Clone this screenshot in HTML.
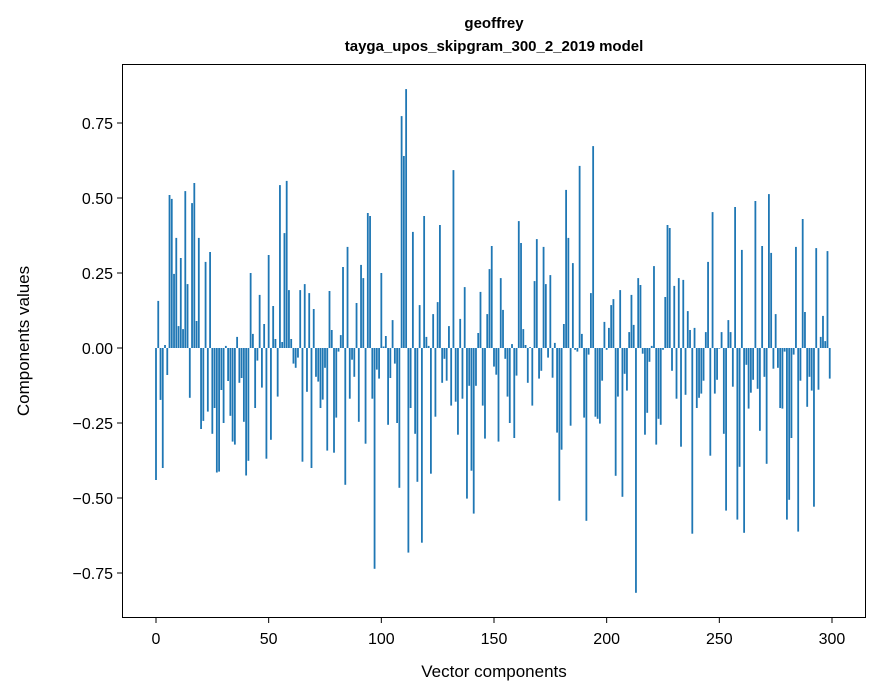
<!DOCTYPE html>
<html><head><meta charset="utf-8"><style>
body{margin:0;background:#fff;}
svg{display:block;font-family:"Liberation Sans","DejaVu Sans",sans-serif;}
</style></head><body>
<svg id="s" width="880" height="696" viewBox="0 0 880 696" xmlns="http://www.w3.org/2000/svg">
<rect width="880" height="696" fill="#fff"/>
<text x="494" y="28" text-anchor="middle" font-size="15" font-weight="bold">geoffrey</text>
<text x="494" y="51" text-anchor="middle" font-size="15" font-weight="bold">tayga_upos_skipgram_300_2_2019 model</text>
<g id="bars" fill="#1f77b4"></g>
<rect x="122.5" y="64.5" width="743" height="553" fill="none" stroke="#000" stroke-width="1"/>
<g id="ticks" stroke="#000" stroke-width="1"></g>
<g id="labels" font-size="16" fill="#000"></g>
<text x="494" y="677" text-anchor="middle" font-size="17">Vector components</text>
<text transform="translate(29,341) rotate(-90)" text-anchor="middle" font-size="17">Components values</text>
</svg>
<script>
var v=[-0.44,0.157,-0.173,-0.40,0.01,-0.09,0.51,0.497,0.247,0.367,0.073,0.30,0.063,0.523,0.213,-0.166,0.483,0.55,0.09,0.367,
-0.27,-0.243,0.287,-0.212,0.32,-0.286,-0.2,-0.415,-0.412,-0.14,-0.25,0.007,-0.11,-0.226,-0.312,-0.322,0.037,-0.116,-0.1,-0.246,
-0.425,-0.376,0.25,0.047,-0.2,-0.042,0.177,-0.132,0.08,-0.369,0.31,-0.306,0.14,0.03,-0.162,0.543,0.02,0.383,0.557,0.193,
0.03,-0.052,-0.066,-0.032,0.193,-0.379,0.213,-0.146,0.183,-0.4,0.13,-0.096,-0.112,-0.2,-0.172,-0.066,-0.342,0.19,0.06,-0.349,
-0.232,-0.012,0.043,0.27,-0.456,0.337,-0.169,-0.039,-0.096,0.15,-0.246,0.277,0.233,-0.319,0.45,0.44,-0.169,-0.736,-0.072,-0.102,
0.25,0.005,0.04,-0.256,-0.1,0.093,-0.052,-0.25,-0.466,0.773,0.64,0.863,-0.682,-0.2,0.387,-0.286,-0.446,0.143,-0.649,0.44,
0.037,0.007,-0.419,0.113,-0.229,0.153,0.41,-0.116,-0.036,-0.109,0.073,-0.192,0.593,-0.179,-0.289,0.097,-0.169,0.203,-0.502,-0.126,
-0.409,-0.552,-0.126,0.05,0.187,-0.192,-0.302,0.113,0.263,0.34,-0.062,-0.089,-0.312,0.233,0.127,-0.036,-0.162,-0.25,0.013,-0.3,
-0.092,0.423,0.35,0.063,0.01,-0.116,0.003,-0.192,0.223,0.363,-0.102,-0.076,0.337,0.213,-0.032,0.243,-0.099,0.017,-0.282,-0.509,
-0.339,0.08,0.527,0.367,-0.259,0.283,-0.006,-0.012,0.607,0.047,-0.232,-0.576,-0.022,0.183,0.673,-0.229,-0.236,-0.252,-0.109,0.087,
-0.006,0.067,0.143,0.163,-0.426,-0.162,0.193,-0.496,-0.086,-0.142,0.053,0.177,0.077,-0.816,0.233,0.21,-0.019,-0.289,-0.216,-0.046,
0.007,0.273,-0.322,-0.236,-0.256,-0.006,0.17,0.41,0.4,-0.076,0.207,-0.169,0.233,-0.329,0.227,-0.156,0.123,0.06,-0.619,0.067,
-0.2,-0.166,-0.152,-0.109,0.053,0.287,-0.359,0.453,-0.152,-0.106,-0.002,0.053,-0.286,-0.542,0.093,0.053,-0.129,0.47,-0.572,-0.396,
0.327,-0.616,-0.056,-0.202,-0.149,-0.106,0.49,-0.136,-0.276,0.34,-0.096,-0.386,0.513,0.317,-0.069,0.113,-0.066,-0.2,-0.202,-0.012,
-0.572,-0.506,-0.3,-0.022,0.337,-0.612,-0.109,0.43,0.12,-0.196,-0.096,-0.142,-0.529,0.333,-0.139,0.037,0.107,0.023,0.323,-0.102];
var NS="http://www.w3.org/2000/svg";
function X(i){return 156+2.2533*i;}
function Y(val){return 348-300*val;}
var b=document.getElementById('bars');
for(var i=0;i<v.length;i++){
 var r=document.createElementNS(NS,'rect');
 var y0=Y(0),y1=Y(v[i]);
 r.setAttribute('x',(X(i)-0.9).toFixed(2));
 r.setAttribute('width','1.8');
 r.setAttribute('y',Math.min(y0,y1).toFixed(2));
 r.setAttribute('height',Math.max(0.3,Math.abs(y1-y0)).toFixed(2));
 b.appendChild(r);
}
var t=document.getElementById('ticks'),L=document.getElementById('labels');
function line(x1,y1,x2,y2){var l=document.createElementNS(NS,'line');l.setAttribute('x1',x1);l.setAttribute('y1',y1);l.setAttribute('x2',x2);l.setAttribute('y2',y2);t.appendChild(l);}
function txt(x,y,s,a){var e=document.createElementNS(NS,'text');e.setAttribute('x',x);e.setAttribute('y',y);e.setAttribute('text-anchor',a);e.textContent=s;L.appendChild(e);}
for(var k=0;k<=6;k++){var x=X(50*k);line(x,618,x,623);txt(x,644,String(50*k),'middle');}
var yl=[-0.75,-0.5,-0.25,0,0.25,0.5,0.75];
for(var j=0;j<yl.length;j++){var y=Y(yl[j]);line(117,y,122,y);
 var s=yl[j].toFixed(2);if(yl[j]<0)s='\u2212'+Math.abs(yl[j]).toFixed(2);
 txt(113,y+6,s,'end');}
</script>
</body></html>
